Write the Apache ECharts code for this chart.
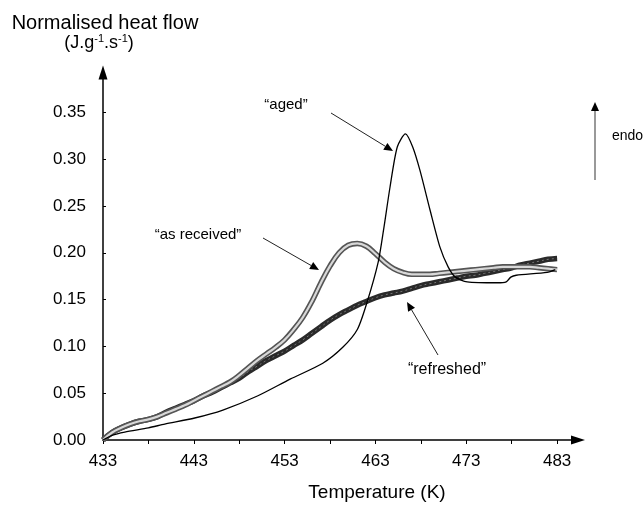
<!DOCTYPE html>
<html>
<head>
<meta charset="utf-8">
<script src="https://cdn.jsdelivr.net/npm/echarts@6/dist/echarts.min.js"></script>
<style>
html,body{margin:0;padding:0;background:#fff;}
#chart{width:644px;height:506px;}
</style>
</head>
<body>
<div id="chart"></div>
<script>
// ---- Data (temperature K, normalised heat flow J.g-1.s-1) ----
const xTickValues = [433, 438, 443, 448, 453, 458, 463, 468, 473, 478, 483];
const xTickLabels = [433, 443, 453, 463, 473, 483];
const yTickValues = [0, 0.05, 0.10, 0.15, 0.20, 0.25, 0.30, 0.35];

const temps = [433,434,435,436,437,438,439,440,441,442,443,444,445,446,447,448,449,450,451,452,453,454,455,456,457,458,459,460,461,462,463,464,465,466,467,468,469,470,471,472,473,474,475,476,477,478,479,480,481,482,483];

const asReceived = [0,0.008,0.013,0.017,0.020,0.022,0.025,0.029,0.033,0.037,0.042,0.047,0.052,0.057,0.062,0.069,0.077,0.085,0.092,0.099,0.107,0.118,0.131,0.148,0.168,0.186,0.200,0.208,0.210,0.207,0.199,0.190,0.183,0.179,0.177,0.177,0.177,0.178,0.179,0.180,0.181,0.182,0.183,0.184,0.185,0.185,0.185,0.185,0.184,0.183,0.182];

const refreshed = [0,0.008,0.013,0.017,0.020,0.022,0.025,0.030,0.034,0.038,0.042,0.047,0.051,0.056,0.061,0.066,0.073,0.079,0.085,0.090,0.095,0.101,0.107,0.114,0.121,0.128,0.134,0.139,0.144,0.148,0.152,0.155,0.157,0.159,0.162,0.165,0.167,0.169,0.171,0.173,0.175,0.176,0.178,0.180,0.182,0.184,0.187,0.189,0.191,0.193,0.194];

const agedT = [433,434,435.4,438,439.8,443.1,446.2,450,453.6,457.2,459.4,461,462.1,463.3,463.9,464.6,465.4,466.3,467.1,467.9,469,470.1,471,471.8,473.1,476.4,477.4,477.9,478.5,481.9,482.8];
const agedV = [0,0.005,0.0085,0.013,0.017,0.0235,0.032,0.047,0.065,0.082,0.099,0.118,0.148,0.190,0.225,0.270,0.313,0.327,0.313,0.288,0.246,0.206,0.185,0.174,0.169,0.168,0.169,0.174,0.176,0.179,0.182];

const labels = { aged: '\u201caged\u201d', asReceived: '\u201cas received\u201d', refreshed: '\u201crefreshed\u201d', endo: 'endo' };

// ---- Build ----
const pair = (xs, ys) => xs.map((x, i) => [x, ys[i]]);
const FONT = '"Liberation Sans", Arial, sans-serif';

function arrow(x1, y1, x2, y2, lineColor, headColor, lw, hl, hw) {
  const dx = x2 - x1, dy = y2 - y1, L = Math.hypot(dx, dy);
  const ux = dx / L, uy = dy / L, px = -uy, py = ux;
  const bx = x2 - ux * hl, by = y2 - uy * hl;
  return [
    { type: 'line', shape: { x1: x1, y1: y1, x2: bx, y2: by }, style: { stroke: lineColor, lineWidth: lw }, z: 100 },
    { type: 'polygon', shape: { points: [[x2, y2], [bx + px * hw / 2, by + py * hw / 2], [bx - px * hw / 2, by - py * hw / 2]] }, style: { fill: headColor }, z: 100 }
  ];
}

const chart = echarts.init(document.getElementById('chart'), null, { renderer: 'canvas' });

const graphics = [].concat(
  [
    { type: 'text', x: 105, y: 23, style: { text: 'Normalised heat flow', font: '20px ' + FONT, fill: '#000', textAlign: 'center', textVerticalAlign: 'middle' } },
    { type: 'text', x: 99, y: 43, style: {
        text: '{a|(J.g}{s|-1}{a|.s}{s|-1}{a|)}',
        rich: { a: { fontSize: 18, fontFamily: FONT, color: '#000' }, s: { fontSize: 11, fontFamily: FONT, color: '#000', verticalAlign: 'top', padding: [0, 0, 8, 0] } },
        textAlign: 'center', textVerticalAlign: 'middle' } },
    { type: 'text', x: 377, y: 493, style: { text: 'Temperature (K)', font: '19px ' + FONT, fill: '#000', textAlign: 'center', textVerticalAlign: 'middle' } },
    { type: 'text', x: 286, y: 105, style: { text: labels.aged, font: '15px ' + FONT, fill: '#000', textAlign: 'center', textVerticalAlign: 'middle' } },
    { type: 'text', x: 198, y: 235, style: { text: labels.asReceived, font: '15px ' + FONT, fill: '#000', textAlign: 'center', textVerticalAlign: 'middle' } },
    { type: 'text', x: 447, y: 370, style: { text: labels.refreshed, font: '16px ' + FONT, fill: '#000', textAlign: 'center', textVerticalAlign: 'middle' } },
    { type: 'text', x: 612, y: 136, style: { text: labels.endo, font: '14px ' + FONT, fill: '#000', textAlign: 'left', textVerticalAlign: 'middle' } }
  ],
  arrow(331, 113, 393, 151, '#222', '#000', 1, 9, 8),
  arrow(263, 238, 319, 270, '#222', '#000', 1, 9, 8),
  arrow(438, 355, 407, 302, '#222', '#000', 1, 9, 8),
  arrow(595, 180, 595, 102, '#999', '#000', 2, 9, 8)
);

const option = {
  animation: false,
  backgroundColor: '#fff',
  grid: { left: 103, right: 66, top: 72.5, bottom: 66 },
  xAxis: {
    type: 'value', min: 433, max: 485.3,
    axisLine: { show: true, symbol: ['none', 'triangle'], symbolSize: [9, 14], lineStyle: { color: '#000', width: 1.5 } },
    axisTick: { show: true, customValues: xTickValues, length: 4, lineStyle: { color: '#000' } },
    axisLabel: { customValues: xTickLabels, fontSize: 17, fontFamily: FONT, color: '#000', margin: 13 },
    splitLine: { show: false }
  },
  yAxis: {
    type: 'value', min: 0, max: 0.3926,
    axisLine: { show: true, symbol: ['none', 'triangle'], symbolSize: [9, 14], lineStyle: { color: '#000', width: 1.5 } },
    axisTick: { show: true, customValues: yTickValues, length: 3, inside: true, lineStyle: { color: '#000' } },
    axisLabel: { customValues: yTickValues, fontSize: 17, fontFamily: FONT, color: '#000', margin: 17, formatter: v => v.toFixed(2) },
    splitLine: { show: false }
  },
  series: [
    { name: 'refreshed', type: 'line', data: pair(temps, refreshed), smooth: 0.4, showSymbol: false, lineStyle: { color: '#2a2a2a', width: 5.5 }, z: 2 },
    { name: 'refreshed-tex', type: 'line', data: pair(temps, refreshed), smooth: 0.4, showSymbol: false, lineStyle: { color: '#777', width: 1, type: [2, 3] }, z: 3 },
    { name: 'as received', type: 'line', data: pair(temps, asReceived), smooth: 0.4, showSymbol: false, lineStyle: { color: '#555', width: 5.5 }, z: 4 },
    { name: 'as received-in', type: 'line', data: pair(temps, asReceived), smooth: 0.4, showSymbol: false, lineStyle: { color: '#d8d8d8', width: 2.2 }, z: 5 },
    { name: 'aged', type: 'line', data: pair(agedT, agedV), smooth: 0.25, showSymbol: false, lineStyle: { color: '#000', width: 1.3 }, z: 6 }
  ],
  graphic: graphics
};
chart.setOption(option);
</script>
</body>
</html>
